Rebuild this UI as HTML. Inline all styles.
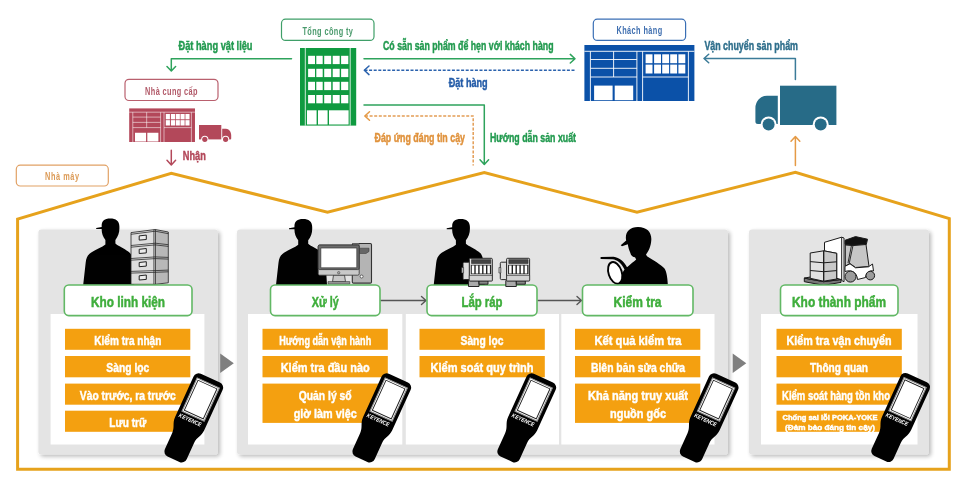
<!DOCTYPE html>
<html><head><meta charset="utf-8">
<style>
html,body{margin:0;padding:0;background:#fff;}
body{width:970px;height:488px;overflow:hidden;font-family:"Liberation Sans",sans-serif;}
svg{display:block;will-change:transform;opacity:0.999;}
text{font-family:"Liberation Sans",sans-serif;font-weight:bold;}
.ft text{stroke:currentColor;stroke-width:0.45px;}
.bar{fill:#f4a010;}
.bt{fill:#fff;font-size:13.3px;text-anchor:middle;stroke:#fff;stroke-width:0.45px;}
.gt{fill:#3fae3c;font-size:15px;text-anchor:middle;stroke:#3fae3c;stroke-width:0.5px;}
.gb{fill:#fff;stroke:#62b865;stroke-width:1.6;}
</style></head><body>
<svg width="970" height="488" viewBox="0 0 970 488">
<defs>
<filter id="sh" x="-10%" y="-10%" width="120%" height="120%"><feGaussianBlur in="SourceAlpha" stdDeviation="2.2"/><feOffset dx="1.5" dy="1.8"/><feComponentTransfer><feFuncA type="linear" slope="0.28"/></feComponentTransfer><feMerge><feMergeNode/><feMergeNode in="SourceGraphic"/></feMerge></filter>
<!-- warehouse 110x56 -->
<g id="wh">
<rect x="0" y="0" width="110" height="56" fill="currentColor"/>
<g fill="none" stroke="#fff" stroke-width="0.9">
<path d="M0,6.3H110 M6,6.3V56 M52.5,6.3V56 M58.2,6.3V56 M104,6.3V56"/>
<path d="M6,14.5H52.5 M6,23.3H52.5 M6,32H52.5 M29.2,6.3V32 M58.2,32H104"/>
</g>
<g fill="#fff">
<rect x="9.7" y="40.6" width="18.5" height="14.6"/><rect x="30.3" y="40.6" width="18.5" height="14.6"/>
<rect x="61.2" y="9.3" width="6.9" height="8.9"/><rect x="69.7" y="9.3" width="6.9" height="8.9"/><rect x="77.8" y="9.3" width="6.9" height="8.9"/><rect x="85.8" y="9.3" width="6.9" height="8.9"/><rect x="94" y="9.3" width="6.9" height="8.9"/>
<rect x="61.2" y="19.6" width="6.9" height="8.9"/><rect x="69.7" y="19.6" width="6.9" height="8.9"/><rect x="77.8" y="19.6" width="6.9" height="8.9"/><rect x="85.8" y="19.6" width="6.9" height="8.9"/><rect x="94" y="19.6" width="6.9" height="8.9"/>
</g>
</g>
<!-- truck facing left, 81x45, origin top-left of bbox -->
<g id="truck">
<rect x="24.6" y="0" width="56.4" height="39.3" fill="currentColor"/>
<path d="M0,22.5 A11.5,12.5 0 0 1 11.5,10 H22.4 V38.3 H2.5 A2.5,2.5 0 0 1 0,35.8 Z" fill="currentColor"/>
<circle cx="13.2" cy="38.7" r="8" fill="#fff"/><circle cx="65.3" cy="38.7" r="8" fill="#fff"/>
<circle cx="13.2" cy="38.7" r="6" fill="currentColor"/><circle cx="65.3" cy="38.7" r="6" fill="currentColor"/>
</g>
<!-- worker silhouette, origin = (110,218) head top center -->
<path id="wk" d="M-14,9.5 L-8.5,8.5 C-9,3 -6,0.2 0,0.2 C6,0.2 9.5,3 9.2,9 C9.4,14 8,18 5.2,21.5 L5.2,25 C8,27.5 14,30 18,33 C21,35 22,38 22.5,42 L24,66.3 L-27,66.3 L-24.5,44 C-24,39 -22,36 -19,34 C-14,31 -8,28.5 -4.8,26 L-4.8,21.5 C-7.5,18 -8.7,14 -8.5,10.5 L-14,10.5 Z" fill="#000"/>
<!-- handheld, origin top center, upright -->
<g id="hh">
<path d="M-10.5,0 H10.5 A5.5,5.5 0 0 1 16,5.5 V50 C16,57 12,59 12,66 V83.5 A5.5,5.5 0 0 1 6.5,89 H-6.5 A5.5,5.5 0 0 1 -12,83.5 V66 C-12,59 -16,57 -16,50 V5.5 A5.5,5.5 0 0 1 -10.5,0 Z" fill="#000"/>
<rect x="-12.2" y="5.2" width="24.4" height="36.6" fill="#fff" stroke="#8c8c8c" stroke-width="1.1"/>
<rect x="-10.4" y="7" width="20.8" height="33" fill="#fff" stroke="#1a1a1a" stroke-width="0.9"/>
<text x="-1.2" y="48.3" font-size="5.8" font-style="italic" fill="#fff" text-anchor="middle" textLength="24" lengthAdjust="spacingAndGlyphs">KEYENCE</text>
</g>
</defs>
<rect width="970" height="488" fill="#fff"/>
<!--TOP-->
<!-- label boxes -->
<g fill="#fff" stroke-width="1.2">
<rect x="281.5" y="19.2" width="92.5" height="21.2" rx="4" stroke="#3f9f68"/>
<rect x="125" y="79.3" width="93" height="21.2" rx="4" stroke="#b9606e"/>
<rect x="593.3" y="19.2" width="92.3" height="21.2" rx="4" stroke="#3a6fb5"/>
<rect x="16.3" y="165.2" width="92" height="20.8" rx="4" stroke="#e1a165"/>
</g>
<g font-size="10.2" style="font-weight:bold" text-anchor="middle">
<text transform="translate(327.7,34.7) scale(0.72,1)" fill="#4a9a6c" textLength="70.1" lengthAdjust="spacing">Tổng công ty</text>
<text transform="translate(171.3,94.6) scale(0.72,1)" fill="#b25a69" textLength="73" lengthAdjust="spacing">Nhà cung cấp</text>
<text transform="translate(639.3,34.3) scale(0.72,1)" fill="#3f6fb0" textLength="63.6" lengthAdjust="spacing">Khách hàng</text>
<text transform="translate(62,180) scale(0.72,1)" fill="#dc9a55" textLength="47.2" lengthAdjust="spacing">Nhà máy</text>
</g>
<!-- green building -->
<g>
<rect x="300" y="48" width="56.2" height="77.6" fill="#0f9a40"/>
<path d="M305.3,48V125.6 M350.2,48V125.6" stroke="#fff" stroke-width="0.8" fill="none"/>
<g fill="#fff">
<g id="wr"><rect x="308.1" y="55.8" width="6.9" height="8.3"/><rect x="316.3" y="55.8" width="6.4" height="8.3"/><rect x="324.2" y="55.8" width="7" height="8.3"/><rect x="332.7" y="55.8" width="7" height="8.3"/><rect x="341.1" y="55.8" width="7.2" height="8.3"/></g>
<use href="#wr" y="13"/><use href="#wr" y="26"/><use href="#wr" y="39.2"/>
<rect x="307" y="110.3" width="9.6" height="14.2"/><rect x="318" y="110.3" width="9.6" height="14.2"/><rect x="329" y="110.3" width="19.6" height="14.2"/>
</g>
</g>
<!-- blue warehouse -->
<use href="#wh" x="584.4" y="45" style="color:#0b51a8"/>
<!-- red warehouse -->
<g transform="translate(129.2,108.4) scale(0.598,0.6)" style="color:#b3485a"><use href="#wh"/></g>
<!-- red truck (faces right) -->
<g fill="#b3485a">
<rect x="199" y="125" width="22.3" height="14.4"/>
<path d="M222.2,128.8 H226 C229,128.8 231.2,132 231.2,135.5 V138.4 A1,1 0 0 1 230.2,139.4 H222.2 Z"/>
<circle cx="204.8" cy="139.3" r="3.6" fill="#fff"/><circle cx="225.6" cy="139.3" r="3.6" fill="#fff"/>
<circle cx="204.8" cy="139.3" r="2.6"/><circle cx="225.6" cy="139.3" r="2.6"/>
</g>
<!-- teal truck -->
<use href="#truck" x="755.4" y="85.7" style="color:#276b87"/>
<!-- arrows -->
<g fill="none" stroke-width="1.5" stroke-linecap="round" stroke-linejoin="round">
<path d="M291.5,58.7 H171.3 V70.5 M167,66.5 L171.3,71 L175.6,66.5" stroke="#2ea35c"/>
<path d="M364,58.7 H575 M570.3,54.4 L575,58.7 L570.3,63" stroke="#2ea35c"/>
<path d="M364.5,70.3 H575" stroke="#2b62ad" stroke-dasharray="3,1.6" stroke-linecap="butt"/>
<path d="M369,66 L364.3,70.3 L369,74.6" stroke="#2b62ad"/>
<path d="M364,105.1 H484.3 V164 M480,159.8 L484.3,164.5 L488.6,159.8" stroke="#2ea35c"/>
<path d="M365,116 H473.2 V165.5" stroke="#e39d55" stroke-dasharray="3,1.6" stroke-linecap="butt"/>
<path d="M369.5,111.7 L364.8,116 L369.5,120.3" stroke="#e59a45"/>
<path d="M171.3,150.3 V164.5 M167,160.3 L171.3,165 L175.6,160.3" stroke="#b3485a"/>
<path d="M795.4,79.5 V58.5 H704 M708.7,54.2 L704,58.5 L708.7,62.8" stroke="#3b7b98"/>
<path d="M795.4,165.5 V137 M791,141.2 L795.4,136.5 L799.8,141.2" stroke="#e59a45"/>
</g>
<!-- flow texts -->
<g font-size="12.6" class="ft">
<text x="178.5" y="50.2" fill="#229a4f" style="color:#229a4f" textLength="74" lengthAdjust="spacingAndGlyphs">Đặt hàng vật liệu</text>
<text x="383" y="50.2" fill="#229a4f" style="color:#229a4f" textLength="170.5" lengthAdjust="spacingAndGlyphs">Có sẵn sản phẩm để hẹn với khách hàng</text>
<text x="448.7" y="86.7" fill="#245ca8" style="color:#245ca8" textLength="39" lengthAdjust="spacingAndGlyphs">Đặt hàng</text>
<text x="704.4" y="50" fill="#2f6f8c" style="color:#2f6f8c" textLength="93.6" lengthAdjust="spacingAndGlyphs">Vận chuyển sản phẩm</text>
<text x="490" y="141.9" fill="#229a4f" style="color:#229a4f" textLength="86" lengthAdjust="spacingAndGlyphs">Hướng dẫn sản xuất</text>
<text x="374.5" y="141.9" fill="#e0923c" style="color:#e0923c" textLength="90.5" lengthAdjust="spacingAndGlyphs">Đáp ứng đáng tin cậy</text>
<text x="182.8" y="160.4" fill="#b3485a" style="color:#b3485a" textLength="23" lengthAdjust="spacingAndGlyphs">Nhận</text>
</g>
<!--/TOP-->
<!--FACTORY-->
<!-- roof -->
<path d="M17.6,469.3 V219 L171.3,173.2 L327.5,212.3 L484.3,172.5 L637,212.3 L795.4,172.3 L949.3,218.5 V469.3 Z" fill="none" stroke="#e6a21c" stroke-width="3" stroke-linejoin="miter"/>
<!-- panels -->
<g filter="url(#sh)">
<rect x="38.4" y="229.5" width="179.6" height="225" rx="3" fill="#e4e4e4"/>
<rect x="237" y="229.5" width="491" height="225" rx="3" fill="#e4e4e4"/>
<rect x="749" y="229.5" width="180" height="225" rx="3" fill="#e4e4e4"/>
</g>
<g fill="#fff">
<rect x="50.6" y="314" width="153.8" height="130.5"/>
<rect x="248" y="314" width="154.3" height="130.5"/>
<rect x="405.8" y="314" width="153.2" height="130.5"/>
<rect x="561.3" y="314" width="153.2" height="130.5"/>
<rect x="761" y="314" width="156.5" height="130.5"/>
</g>
<!-- big arrows -->
<path d="M220.2,353.5 L233.8,363.3 L220.2,373 Z" fill="#7f7f7f"/>
<path d="M732.7,353.5 L746.3,363.3 L732.7,373 Z" fill="#7f7f7f"/>
<!-- workers & icons -->
<use href="#wk" x="110.2" y="218.4"/>
<use href="#wk" x="303" y="218.7"/>
<use href="#wk" x="460.7" y="218.8"/>
<!--ICONS-->
<!-- file cabinets -->
<g stroke="#222" stroke-width="0.8" stroke-linejoin="round">
<path d="M131,232.6 L155.3,229.5 L155.3,284.3 L131,284.3 Z" fill="#dedede"/>
<path d="M155.3,229.5 L168.3,232 L168.3,282.8 L155.3,284.3 Z" fill="#b8b8b8"/>
<path d="M131,234.3 L155.3,231.2 L168.3,233.7 M131,245.5 L155.3,243.2 L168.3,244.7 M131,247.2 L155.3,244.9 L168.3,246.4 M131,258.5 L155.3,256.9 L168.3,257.4 M131,260.2 L155.3,258.6 L168.3,259.1 M131,271.4 L155.3,270.6 L168.3,270.1 M131,273.1 L155.3,272.3 L168.3,271.8" fill="none" stroke-width="0.75"/>
<path d="M153.6,229.7 V284.3" fill="none" stroke-width="0.5"/>
<g fill="#ececec" stroke-width="1"><path d="M139.2,235.9 L146.3,235.1 V239.5 L139.2,240.1 Z"/><path d="M139.2,249.3 L146.3,248.5 V252.9 L139.2,253.5 Z"/><path d="M139.2,262.5 L146.3,261.7 V266.1 L139.2,266.7 Z"/><path d="M139.2,275.8 L146.3,275.0 V279.4 L139.2,280.0 Z"/></g>
</g>
<!-- computer -->
<g stroke="#333" stroke-width="0.8" stroke-linejoin="round">
<rect x="352.3" y="243.5" width="19.2" height="39.6" rx="1.2" fill="#b4b4b4" stroke-width="1.1"/>
<path d="M352.5,243.5 V247 H359 V243.5" fill="#999" stroke-width="0.6"/>
<path d="M359.5,248.2 H369 V251.5 L366,253.5 H359.5 Z" fill="#666" stroke-width="0.5"/>
<circle cx="361.6" cy="276.5" r="1.5" fill="#fff" stroke-width="0.7"/>
<path d="M333.5,275 H344.5 L345.5,281.8 H332.5 Z" fill="#c9c9c9"/>
<rect x="328" y="281.6" width="21.8" height="2.4" fill="#9a9a9a" stroke-width="0.6"/>
<rect x="318.2" y="245" width="41" height="30.2" rx="1.5" fill="#c9c9c9"/>
<rect x="318.2" y="245" width="41" height="24.6" rx="1.5" fill="#6c6c6c"/>
<rect x="320.8" y="248" width="36" height="19.8" fill="#fff" stroke-width="0.7"/>
<circle cx="338.7" cy="272.7" r="1.2" fill="#aaa" stroke-width="0.5"/>
</g>
<!-- inspector -->
<g>
<path d="M620.7,245.2 L626.2,240.5 C624.5,233 629,227 638,227 C647,227 651.8,232.5 651.3,240 C651,246 648.5,251.5 646,254.5 L647,256.2 C653,260 661,264.5 664.5,268.5 C666.5,271 667.5,278 667.8,284.3 L619,284.3 C619.5,280 621,274 624.5,269.5 C622,263.5 617,259.5 612.5,259.2 L600.6,259 L600.6,257 L613.5,256.8 C619.5,257.5 624.5,262 627,267.3 C630,264.5 634,261.5 636.2,259.5 L635,257.2 C632.5,257.2 630.8,255.5 630.2,252.5 C629,250 628.2,247 627.8,244.3 L622,246.3 Z" fill="#000"/>
<ellipse cx="615.2" cy="272.9" rx="6.6" ry="11.2" transform="rotate(-18 615.2 272.9)" fill="#fff" stroke="#000" stroke-width="1.9"/>
</g>
<!-- forklift -->
<g stroke="#1a1a1a" stroke-width="1" stroke-linejoin="round">
<path d="M845,240.3 L855.5,236.6 L867.5,239.2 L866.3,244.5 L853,245.2 L845,244.5 Z" fill="#111"/>
<path d="M845.3,245 L853,245.6 L866,244.5 L869,266.5 L855.5,267.5 L850,263.5 L845.3,266 Z" fill="#c6c6c6"/>
<path d="M853,245.4 L849.2,263.5 M851.5,245.3 L848,263" fill="none" stroke-width="0.9"/>
<path d="M845,266.3 L850,263.8 L855.5,267.8 L868.5,266.8 L872.5,264 L873.5,271 C870,270 866,272.5 865.5,277.5 L857.5,279.5 C857,272 851,269.5 845,271.5 Z" fill="#fff"/>
<circle cx="850.5" cy="276.6" r="5.5" fill="#9b9b9b"/>
<circle cx="870.3" cy="275.6" r="4.3" fill="#9b9b9b"/>
<path d="M824.5,242.3 L841.7,237.2 L844,238 V281.7 L841.7,280.5 V279.5 L824.5,279.5 Z" fill="#fff"/>
<path d="M841.7,237.2 V280" fill="none"/>
<path d="M804.3,278.1 L823.7,281.7 L841,279.5 V282.4 L823.7,285.3 L804.3,281.7 Z" fill="#777"/>
<path d="M804.3,278.1 L823.7,274.5 L841,279.5 L823.7,281.7 Z" fill="#888"/>
<path d="M810.2,253 L823.7,250.8 L836.7,253.3 V279 L823.7,281.2 L810.2,278.3 Z" fill="#e2e2e2"/>
<path d="M823.7,250.8 L836.7,253.3 V279 L823.7,281.2 Z" fill="#c9c9c9"/>
<path d="M810.2,261.6 L823.7,262.8 L836.7,261.8 M810.2,270.5 L823.7,271.7 L836.7,270.6 M823.7,250.8 V281.2" fill="none"/>
</g>
<!--/ICONS-->
<!-- flow arrows -->
<g fill="none" stroke="#555" stroke-width="1.4" stroke-linecap="round" stroke-linejoin="round">
<path d="M381,300.5 H426 M421.5,296.5 L426,300.5 L421.5,304.5"/>
<path d="M538,300.5 H581.5 M577,296.5 L581.5,300.5 L577,304.5"/>
</g>
<!-- green boxes -->
<g class="gb">
<rect x="64.3" y="285" width="127.7" height="30.6" rx="4.5"/>
<rect x="270.5" y="285" width="109.5" height="30.6" rx="4.5"/>
<rect x="427" y="285" width="110" height="30.6" rx="4.5"/>
<rect x="582.5" y="285" width="110.5" height="30.6" rx="4.5"/>
<rect x="780.5" y="285" width="117.5" height="30.6" rx="4.5"/>
</g>
<!-- motors -->
<g id="motor" stroke="#1c1c1c" stroke-width="0.95" stroke-linejoin="round">
<rect x="468.5" y="280.6" width="10.5" height="5.9" fill="#aaa"/>
<rect x="479" y="280.6" width="9" height="3.6" fill="#888"/>
<rect x="463" y="262.2" width="6.8" height="17.4" rx="1.2" fill="#ddd"/>
<rect x="461.6" y="267.5" width="2" height="5.5" fill="#bbb" stroke-width="0.5"/>
<rect x="469.3" y="258.3" width="23" height="22.6" rx="1" fill="#e2e2e2"/>
<rect x="471.5" y="259.6" width="19.3" height="3.9" fill="#444" stroke-width="0.5"/>
<rect x="470.8" y="264.8" width="20.4" height="9.4" fill="#222" stroke="none"/>
<g fill="#fff" stroke="none"><rect x="471.8" y="265.5" width="2.5" height="8"/><rect x="475.7" y="265.5" width="2.5" height="8"/><rect x="479.6" y="265.5" width="2.5" height="8"/><rect x="483.5" y="265.5" width="2.5" height="8"/><rect x="487.4" y="265.5" width="2.5" height="8"/></g>
<rect x="469.3" y="275.4" width="23" height="5.5" fill="#d2d2d2" stroke-width="0.6"/>
</g>
<use href="#motor" x="37.3"/>
<g class="gt">
<text x="128" y="306.8" textLength="74" lengthAdjust="spacingAndGlyphs">Kho linh kiện</text>
<text x="325.3" y="306.8" textLength="27" lengthAdjust="spacingAndGlyphs">Xử lý</text>
<text x="482" y="306.8" textLength="41" lengthAdjust="spacingAndGlyphs">Lắp ráp</text>
<text x="637.5" y="306.8" textLength="48" lengthAdjust="spacingAndGlyphs">Kiểm tra</text>
<text x="839" y="306.8" textLength="94" lengthAdjust="spacingAndGlyphs">Kho thành phẩm</text>
</g>
<!-- bars -->
<g class="bar">
<rect x="65" y="328.8" width="125.3" height="21"/><rect x="65" y="356" width="125.3" height="21.3"/><rect x="65" y="383.6" width="125.3" height="21.1"/><rect x="65" y="410.7" width="125.3" height="21.1"/>
<rect x="262.5" y="328.8" width="125.3" height="21"/><rect x="262.5" y="356" width="125.3" height="21.3"/><rect x="262.5" y="383.6" width="125.3" height="39.3"/>
<rect x="419.5" y="328.8" width="125.3" height="21"/><rect x="419.5" y="356" width="125.3" height="21.3"/>
<rect x="575" y="328.8" width="125.3" height="21"/><rect x="575" y="356" width="125.3" height="21.3"/><rect x="575" y="383.6" width="125.3" height="39.3"/>
<rect x="776.5" y="328.8" width="125.3" height="21"/><rect x="776.5" y="356" width="125.3" height="21.3"/><rect x="776.5" y="383.6" width="125.3" height="21.1"/><rect x="776.5" y="410.7" width="125.3" height="21.1"/>
</g>
<g class="bt">
<text x="127.8" y="345.1" textLength="67" lengthAdjust="spacingAndGlyphs">Kiểm tra nhận</text>
<text x="127.8" y="372.4" textLength="43" lengthAdjust="spacingAndGlyphs">Sàng lọc</text>
<text x="127.8" y="399.8" textLength="96" lengthAdjust="spacingAndGlyphs">Vào trước, ra trước</text>
<text x="127.8" y="427.1" textLength="37" lengthAdjust="spacingAndGlyphs">Lưu trữ</text>
<text x="325.2" y="345.1" textLength="92" lengthAdjust="spacingAndGlyphs">Hướng dẫn vận hành</text>
<text x="325.2" y="372.4" textLength="89" lengthAdjust="spacingAndGlyphs">Kiểm tra đầu nào</text>
<text x="325.2" y="399.6" textLength="53" lengthAdjust="spacingAndGlyphs">Quản lý số</text>
<text x="325.2" y="417.8" textLength="63" lengthAdjust="spacingAndGlyphs">giờ làm việc</text>
<text x="482" y="345.1" textLength="43" lengthAdjust="spacingAndGlyphs">Sàng lọc</text>
<text x="482" y="372.4" textLength="103" lengthAdjust="spacingAndGlyphs">Kiểm soát quy trình</text>
<text x="638" y="345.1" textLength="87" lengthAdjust="spacingAndGlyphs">Kết quả kiểm tra</text>
<text x="638" y="372.4" textLength="94" lengthAdjust="spacingAndGlyphs">Biên bản sửa chữa</text>
<text x="638" y="399.6" textLength="100" lengthAdjust="spacingAndGlyphs">Khả năng truy xuất</text>
<text x="638" y="417.8" textLength="56" lengthAdjust="spacingAndGlyphs">nguồn gốc</text>
<text x="839" y="345.1" textLength="105" lengthAdjust="spacingAndGlyphs">Kiểm tra vận chuyển</text>
<text x="839" y="372.4" textLength="58" lengthAdjust="spacingAndGlyphs">Thông quan</text>
<text x="836" y="399.8" textLength="108" lengthAdjust="spacingAndGlyphs">Kiểm soát hàng tồn kho</text>
<text x="830" y="420.1" font-size="8" textLength="95" lengthAdjust="spacingAndGlyphs">Chống sai lỗi POKA-YOKE</text>
<text x="830" y="430.1" font-size="8" textLength="90" lengthAdjust="spacingAndGlyphs">(Đảm bảo đáng tin cậy)</text>
</g>
<!-- handhelds -->
<use href="#hh" transform="translate(210.4,378.2) rotate(24.5)"/>
<use href="#hh" transform="translate(398.4,378.2) rotate(24.5)"/>
<use href="#hh" transform="translate(543.4,378.2) rotate(24.5)"/>
<use href="#hh" transform="translate(725.8,378.2) rotate(24.5)"/>
<use href="#hh" transform="translate(917.3,377.8) rotate(24.5)"/>
<!--/FACTORY-->
</svg>
</body></html>
